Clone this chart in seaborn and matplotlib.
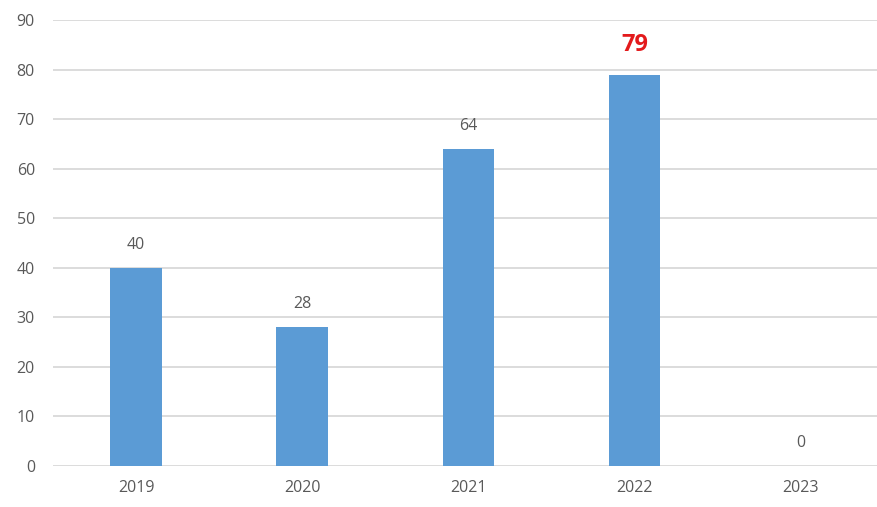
import matplotlib
matplotlib.use("Agg")
import matplotlib.pyplot as plt
import seaborn as sns
import pandas as pd

# Dados
anos = ['2019', '2020', '2021', '2022', '2023']
valores = [40, 28, 64, 79, 0]
destaque = '2022'

df = pd.DataFrame({'ano': anos, 'valor': valores})

sns.set_style('white')
plt.rcParams['font.family'] = ['Open Sans', 'DejaVu Sans']

fig = plt.figure(figsize=(8.77, 5.07), dpi=100)
ax = fig.add_axes([53 / 877, 1 - 466 / 507, 1 - 53 / 877, (466 - 20) / 507])

sns.barplot(data=df, x='ano', y='valor', color='#5B9BD5', width=0.31,
            saturation=1, linewidth=0, ax=ax, zorder=3)

ax.set_ylim(0, 90)
ax.set_xlim(-0.5, 4.46)
ax.set_yticks(range(0, 91, 10))
ax.yaxis.grid(True, color='#d9d9d9', linewidth=1.3, zorder=0)
ax.set_axisbelow(True)
for s in ax.spines.values():
    s.set_visible(False)
ax.set_xlabel('')
ax.set_ylabel('')
ax.tick_params(axis='both', length=0, labelsize=11.5, labelcolor='#595959')
ax.tick_params(axis='x', pad=10)
ax.tick_params(axis='y', pad=13)

# Rótulos dos valores
for i, (ano, v) in enumerate(zip(anos, valores)):
    if ano == destaque:
        ax.text(i, v + 3.6, str(v), ha='center', va='bottom', fontsize=17,
                fontweight='bold', color='#e31a1c')
    else:
        ax.text(i, v + 3, str(v), ha='center', va='bottom', fontsize=11.5,
                color='#595959')

fig.savefig('out.png', dpi=100)
